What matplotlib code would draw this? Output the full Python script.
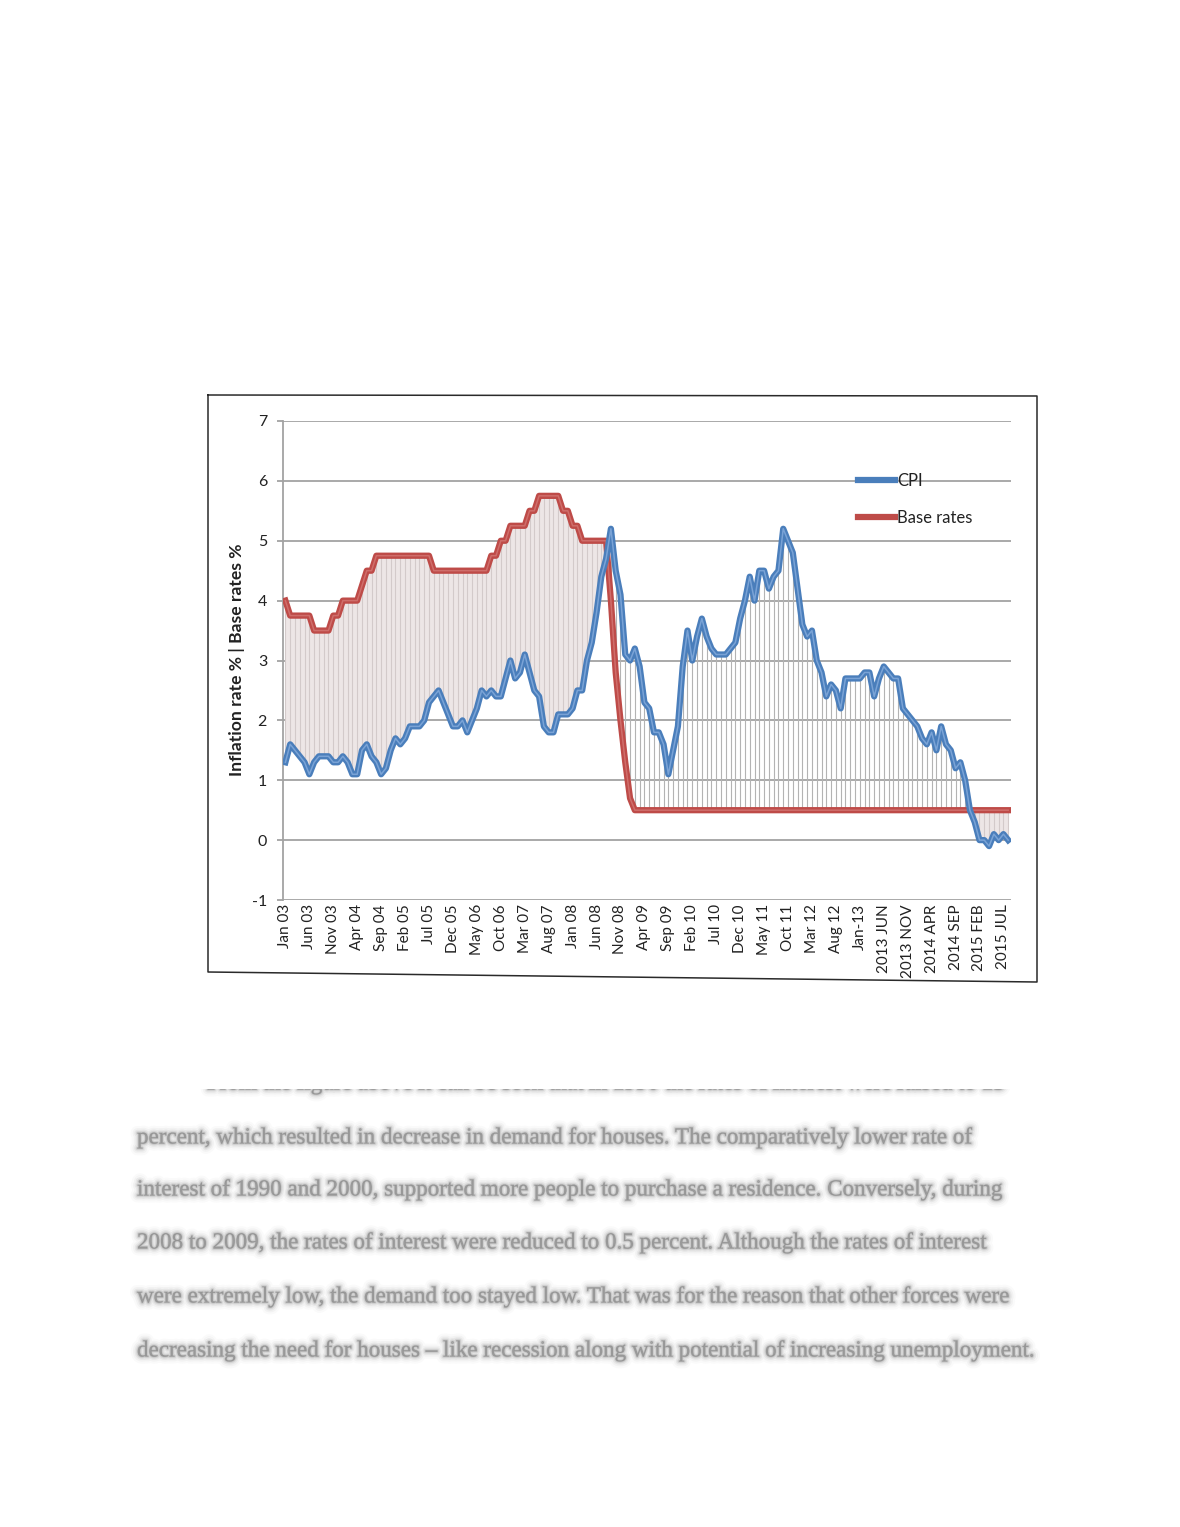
import numpy as np
import matplotlib.pyplot as plt
from matplotlib.lines import Line2D
from matplotlib.patches import Rectangle
import matplotlib.patheffects as pe

plt.rcParams['font.family'] = ['Lato', 'DejaVu Sans']
plt.rcParams['axes.unicode_minus'] = False

## Data: monthly, Jan 2003 - Aug 2015

cpi = [1.3, 1.6, 1.5, 1.4, 1.3, 1.1, 1.3, 1.4, 1.4, 1.4, 1.3, 1.3,   # 2003
       1.4, 1.3, 1.1, 1.1, 1.5, 1.6, 1.4, 1.3, 1.1, 1.2, 1.5, 1.7,   # 2004
       1.6, 1.7, 1.9, 1.9, 1.9, 2.0, 2.3, 2.4, 2.5, 2.3, 2.1, 1.9,   # 2005
       1.9, 2.0, 1.8, 2.0, 2.2, 2.5, 2.4, 2.5, 2.4, 2.4, 2.7, 3.0,   # 2006
       2.7, 2.8, 3.1, 2.8, 2.5, 2.4, 1.9, 1.8, 1.8, 2.1, 2.1, 2.1,   # 2007
       2.2, 2.5, 2.5, 3.0, 3.3, 3.8, 4.4, 4.7, 5.2, 4.5, 4.1, 3.1,   # 2008
       3.0, 3.2, 2.9, 2.3, 2.2, 1.8, 1.8, 1.6, 1.1, 1.5, 1.9, 2.9,   # 2009
       3.5, 3.0, 3.4, 3.7, 3.4, 3.2, 3.1, 3.1, 3.1, 3.2, 3.3, 3.7,   # 2010
       4.0, 4.4, 4.0, 4.5, 4.5, 4.2, 4.4, 4.5, 5.2, 5.0, 4.8, 4.2,   # 2011
       3.6, 3.4, 3.5, 3.0, 2.8, 2.4, 2.6, 2.5, 2.2, 2.7, 2.7, 2.7,   # 2012
       2.7, 2.8, 2.8, 2.4, 2.7, 2.9, 2.8, 2.7, 2.7, 2.2, 2.1, 2.0,   # 2013
       1.9, 1.7, 1.6, 1.8, 1.5, 1.9, 1.6, 1.5, 1.2, 1.3, 1.0, 0.5,   # 2014
       0.3, 0.0, 0.0, -0.1, 0.1, 0.0, 0.1, 0.0]                      # 2015

base = [4.0, 3.75, 3.75, 3.75, 3.75, 3.75, 3.5, 3.5, 3.5, 3.5, 3.75, 3.75,
        4.0, 4.0, 4.0, 4.0, 4.25, 4.5, 4.5, 4.75, 4.75, 4.75, 4.75, 4.75,
        4.75, 4.75, 4.75, 4.75, 4.75, 4.75, 4.75, 4.5, 4.5, 4.5, 4.5, 4.5,
        4.5, 4.5, 4.5, 4.5, 4.5, 4.5, 4.5, 4.75, 4.75, 5.0, 5.0, 5.25,
        5.25, 5.25, 5.25, 5.5, 5.5, 5.75, 5.75, 5.75, 5.75, 5.75, 5.5, 5.5,
        5.25, 5.25, 5.0, 5.0, 5.0, 5.0, 5.0, 5.0, 4.0, 2.8, 2.0, 1.3,
        0.7, 0.5, 0.5, 0.5, 0.5, 0.5, 0.5, 0.5, 0.5, 0.5, 0.5, 0.5,
        0.5, 0.5, 0.5, 0.5, 0.5, 0.5, 0.5, 0.5, 0.5, 0.5, 0.5, 0.5,
        0.5, 0.5, 0.5, 0.5, 0.5, 0.5, 0.5, 0.5, 0.5, 0.5, 0.5, 0.5,
        0.5, 0.5, 0.5, 0.5, 0.5, 0.5, 0.5, 0.5, 0.5, 0.5, 0.5, 0.5,
        0.5, 0.5, 0.5, 0.5, 0.5, 0.5, 0.5, 0.5, 0.5, 0.5, 0.5, 0.5,
        0.5, 0.5, 0.5, 0.5, 0.5, 0.5, 0.5, 0.5, 0.5, 0.5, 0.5, 0.5,
        0.5, 0.5, 0.5, 0.5, 0.5, 0.5, 0.5, 0.5]

tick_labels = ["Jan 03", "Jun 03", "Nov 03", "Apr 04", "Sep 04", "Feb 05", "Jul 05",
               "Dec 05", "May 06", "Oct 06", "Mar 07", "Aug 07", "Jan 08", "Jun 08",
               "Nov 08", "Apr 09", "Sep 09", "Feb 10", "Jul 10", "Dec 10", "May 11",
               "Oct 11", "Mar 12", "Aug 12", "Jan-13", "2013 JUN", "2013 NOV",
               "2014 APR", "2014 SEP", "2015 FEB", "2015 JUL"]

page_lines = ["From the figure above it can be seen that in 1990 the rates of interest were raised to 15",
              "percent, which resulted in decrease in demand for houses. The comparatively lower rate of",
              "interest of 1990 and 2000, supported more people to purchase a residence. Conversely, during",
              "2008 to 2009, the rates of interest were reduced to 0.5 percent. Although the rates of interest",
              "were extremely low, the demand too stayed low. That was for the reason that other forces were",
              "decreasing the need for houses \u2013 like recession along with potential of increasing unemployment."]

cpi = np.array(cpi)
base = np.array(base)
x = np.arange(len(cpi))

W, H = 1180, 1527
fig = plt.figure(figsize=(W / 100, H / 100), dpi=100)

## Page (pixel coordinates)

page = fig.add_axes([0, 0, 1, 1])
page.set_xlim(0, W)
page.set_ylim(H, 0)
page.axis('off')

page.plot([208, 1037, 1037, 208, 208], [395, 396, 982, 972, 395], color='#2a2a2a', lw=1.1)

# blurred paragraph text (soft halo made of stacked strokes)
blur = [pe.Stroke(linewidth=10, foreground='#aaaaaa', alpha=0.06),
        pe.Stroke(linewidth=7, foreground='#999999', alpha=0.08),
        pe.Stroke(linewidth=4.5, foreground='#888888', alpha=0.11),
        pe.Stroke(linewidth=2.5, foreground='#777777', alpha=0.15),
        pe.Stroke(linewidth=1.0, foreground='#666666', alpha=0.2)]
clip = Rectangle((0, 1089), W, 400, transform=page.transData)
line_y = [1084, 1138, 1190, 1243, 1297, 1351]
line_x = [207, 137, 137, 137, 137, 137]
for k, s in enumerate(page_lines):
    t = page.text(line_x[k], line_y[k], s, family='Liberation Serif', fontsize=16.6,
                  color='#666666', alpha=0.4, va='center', ha='left', path_effects=blur)
    if k == 0:
        t.set_clip_on(True)
        t.set_clip_path(clip)

## Chart

ax = fig.add_axes([283 / W, 1 - 900 / H, 727.6 / W, 479 / H])
ax.set_xlim(-0.5, len(cpi) - 0.5)
ax.set_ylim(-1, 7)
ax.set_yticks(range(-1, 8))
ax.grid(axis='y', color='#a3a3a3', lw=1.3, zorder=0)
ax.set_axisbelow(True)

for s in ['top', 'right', 'bottom']:
    ax.spines[s].set_visible(False)
ax.spines['left'].set_color('#a3a3a3')
ax.spines['left'].set_linewidth(1.3)

# gap between the two series
below = base >= cpi
ax.fill_between(x, cpi, base, where=below, color='#ede6e6', lw=0, interpolate=True, zorder=1)
vcol = np.where(below, '#d3caca', '#b3b3b3')
ax.vlines(x, np.minimum(cpi, base), np.maximum(cpi, base), colors=vcol, lw=0.8, zorder=2)

ax.plot(x, cpi, color='#4a7ebb', lw=4.5, solid_joinstyle='round', zorder=4)
ax.plot(x, cpi, color='#7aa3d6', lw=1.1, zorder=4)
ax.plot(x, base, color='#be4b48', lw=4.5, solid_joinstyle='round', zorder=3)
ax.plot(x, base, color='#cf6e6b', lw=1.1, zorder=3)

ax.set_xticks(x[::5])
ax.set_xticklabels(tick_labels, rotation=90, fontsize=11, color='#222222')
ax.tick_params(axis='x', length=0, pad=3)
ax.tick_params(axis='y', length=4.5, color='#a3a3a3', width=1.3, labelsize=11.5,
               labelcolor='#222222', pad=7)

fig.text(237 / W, 1 - 660 / H, "Inflation rate % | Base rates %", rotation=90,
         ha='center', va='center', fontsize=12.6, fontweight='bold', color='#222222')

handles = [Line2D([], [], color='#4a7ebb', lw=4.5), Line2D([], [], color='#be4b48', lw=4.5)]
ax.legend(handles, ["CPI", "Base rates"], loc='upper left',
          bbox_to_anchor=(858 / W, 1 - 473 / H), bbox_transform=fig.transFigure,
          frameon=False, fontsize=12, handlelength=2.2, handletextpad=0.15,
          labelspacing=1.26, borderpad=0, borderaxespad=0, labelcolor='#222222')

fig.savefig("out.png", dpi=100)
